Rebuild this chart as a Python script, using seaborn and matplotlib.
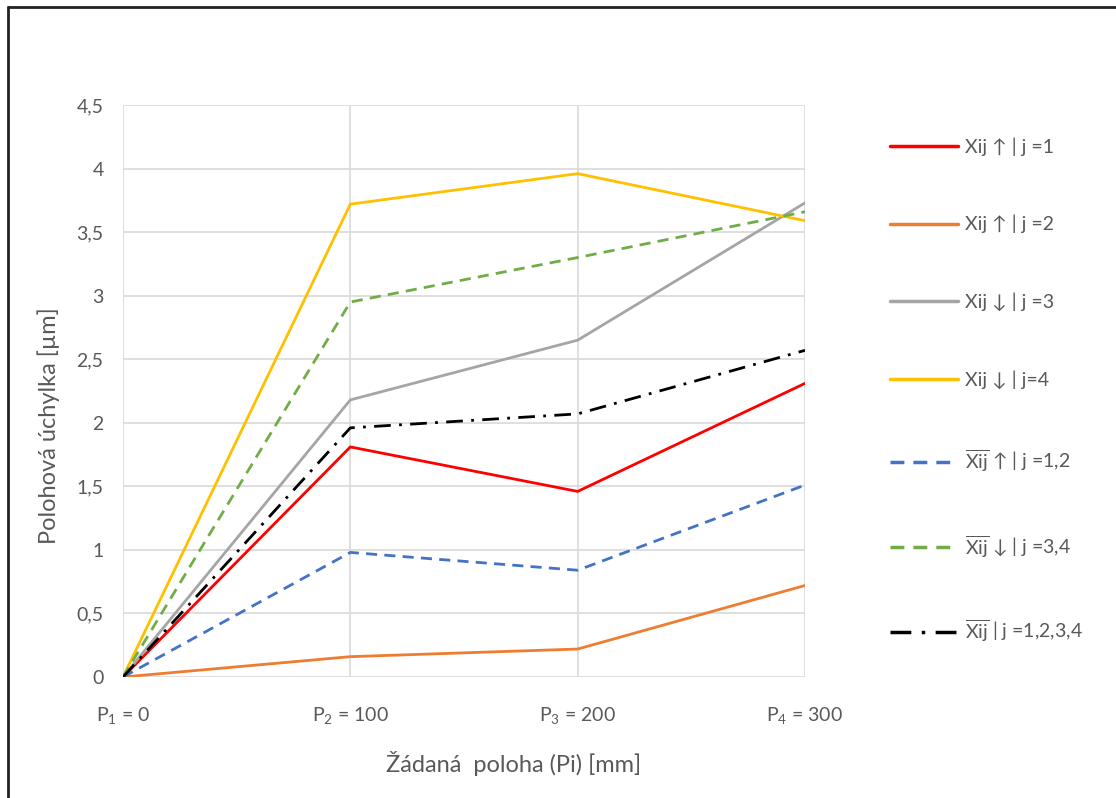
import pandas as pd
import matplotlib.pyplot as plt
import matplotlib.lines as mlines
import seaborn as sns

# positions P1..P4 and measured deviations [um]
positions = [0, 1, 2, 3]
pos_labels = [r'P$_\mathregular{1}$ = 0', r'P$_\mathregular{2}$ = 100',
              r'P$_\mathregular{3}$ = 200', r'P$_\mathregular{4}$ = 300']

x_up_1 = [0, 1.81, 1.46, 2.31]
x_up_2 = [0, 0.16, 0.22, 0.72]
x_down_3 = [0, 2.18, 2.65, 3.73]
x_down_4 = [0, 3.72, 3.96, 3.59]
mean_up = [0, 0.98, 0.84, 1.51]
mean_down = [0, 2.95, 3.30, 3.66]
mean_all = [0, 1.96, 2.07, 2.57]

y_ticks = [0, 0.5, 1, 1.5, 2, 2.5, 3, 3.5, 4, 4.5]
y_tick_labels = ['0', '0,5', '1', '1,5', '2', '2,5', '3', '3,5', '4', '4,5']

names = ['Xij ↑ | j =1', 'Xij ↑ | j =2', 'Xij ↓ | j =3', 'Xij ↓ | j=4',
         r'$\overline{\mathregular{Xij}}$ ↑ | j =1,2',
         r'$\overline{\mathregular{Xij}}$ ↓ | j =3,4',
         r'$\overline{\mathregular{Xij}}$ | j =1,2,3,4']
series = [x_up_1, x_up_2, x_down_3, x_down_4, mean_up, mean_down, mean_all]
colors = ['#FF0000', '#ED7D31', '#A5A5A5', '#FFC000', '#4472C4', '#70AD47', '#000000']
dash_styles = ['', '', '', '', (4, 2.6), (4, 2.6), (6, 3, 1, 3)]

rows = []
for n, vals in zip(names, series):
    for p, v in zip(positions, vals):
        rows.append({'pos': p, 'val': v, 'series': n})
df = pd.DataFrame(rows)

sns.set_style('white')
plt.rcParams['font.family'] = ['Lato', 'DejaVu Sans']
plt.rcParams['mathtext.fontset'] = 'custom'
plt.rcParams['mathtext.rm'] = 'Lato'
text_color = '#595959'

fig = plt.figure(figsize=(11.16, 7.98), dpi=100)
ax = fig.add_axes([123 / 1116, 1 - 677 / 798, 682 / 1116, 572 / 798])

sns.lineplot(data=df, x='pos', y='val', hue='series', style='series',
             palette=dict(zip(names, colors)), dashes=dict(zip(names, dash_styles)),
             linewidth=2, ax=ax, legend=False)

ax.set_xlim(0, 3)
ax.set_ylim(0, 4.5)
ax.set_xticks(positions)
ax.set_xticklabels(pos_labels)
ax.set_yticks(y_ticks)
ax.set_yticklabels(y_tick_labels)
ax.tick_params(axis='x', length=0, pad=21, labelsize=14, labelcolor=text_color)
ax.tick_params(axis='y', length=0, pad=14, labelsize=14, labelcolor=text_color)
ax.grid(True, color='#d9d9d9', linewidth=1.2)
for s in ax.spines.values():
    s.set_visible(False)

ax.set_xlabel('Žádaná  poloha (Pi) [mm]', fontsize=17, color=text_color)
ax.xaxis.set_label_coords(0.573, -0.13)
ax.set_ylabel('Polohová úchylka [µm]', fontsize=17, color=text_color)
ax.yaxis.set_label_coords(-0.092, 0.44)

handles = []
for n, c, d in zip(names, colors, dash_styles):
    h = mlines.Line2D([], [], color=c, linewidth=2.5)
    if d:
        h.set_dashes(d)
    handles.append(h)
fig.legend(handles=handles, labels=names, loc='upper left',
           bbox_to_anchor=(872 / 1116, 1 - 120 / 798), frameon=False,
           fontsize=14, labelcolor=text_color, labelspacing=3.03,
           handlelength=3.5, handletextpad=0.4)

# frame of the chart (top and left edges only)
fig.add_artist(mlines.Line2D([8 / 1116, 1], [1 - 7 / 798, 1 - 7 / 798],
                             color='#222222', linewidth=2, transform=fig.transFigure))
fig.add_artist(mlines.Line2D([8 / 1116, 8 / 1116], [0, 1 - 7 / 798],
                             color='#222222', linewidth=2, transform=fig.transFigure))

fig.savefig('out.png', dpi=100)
